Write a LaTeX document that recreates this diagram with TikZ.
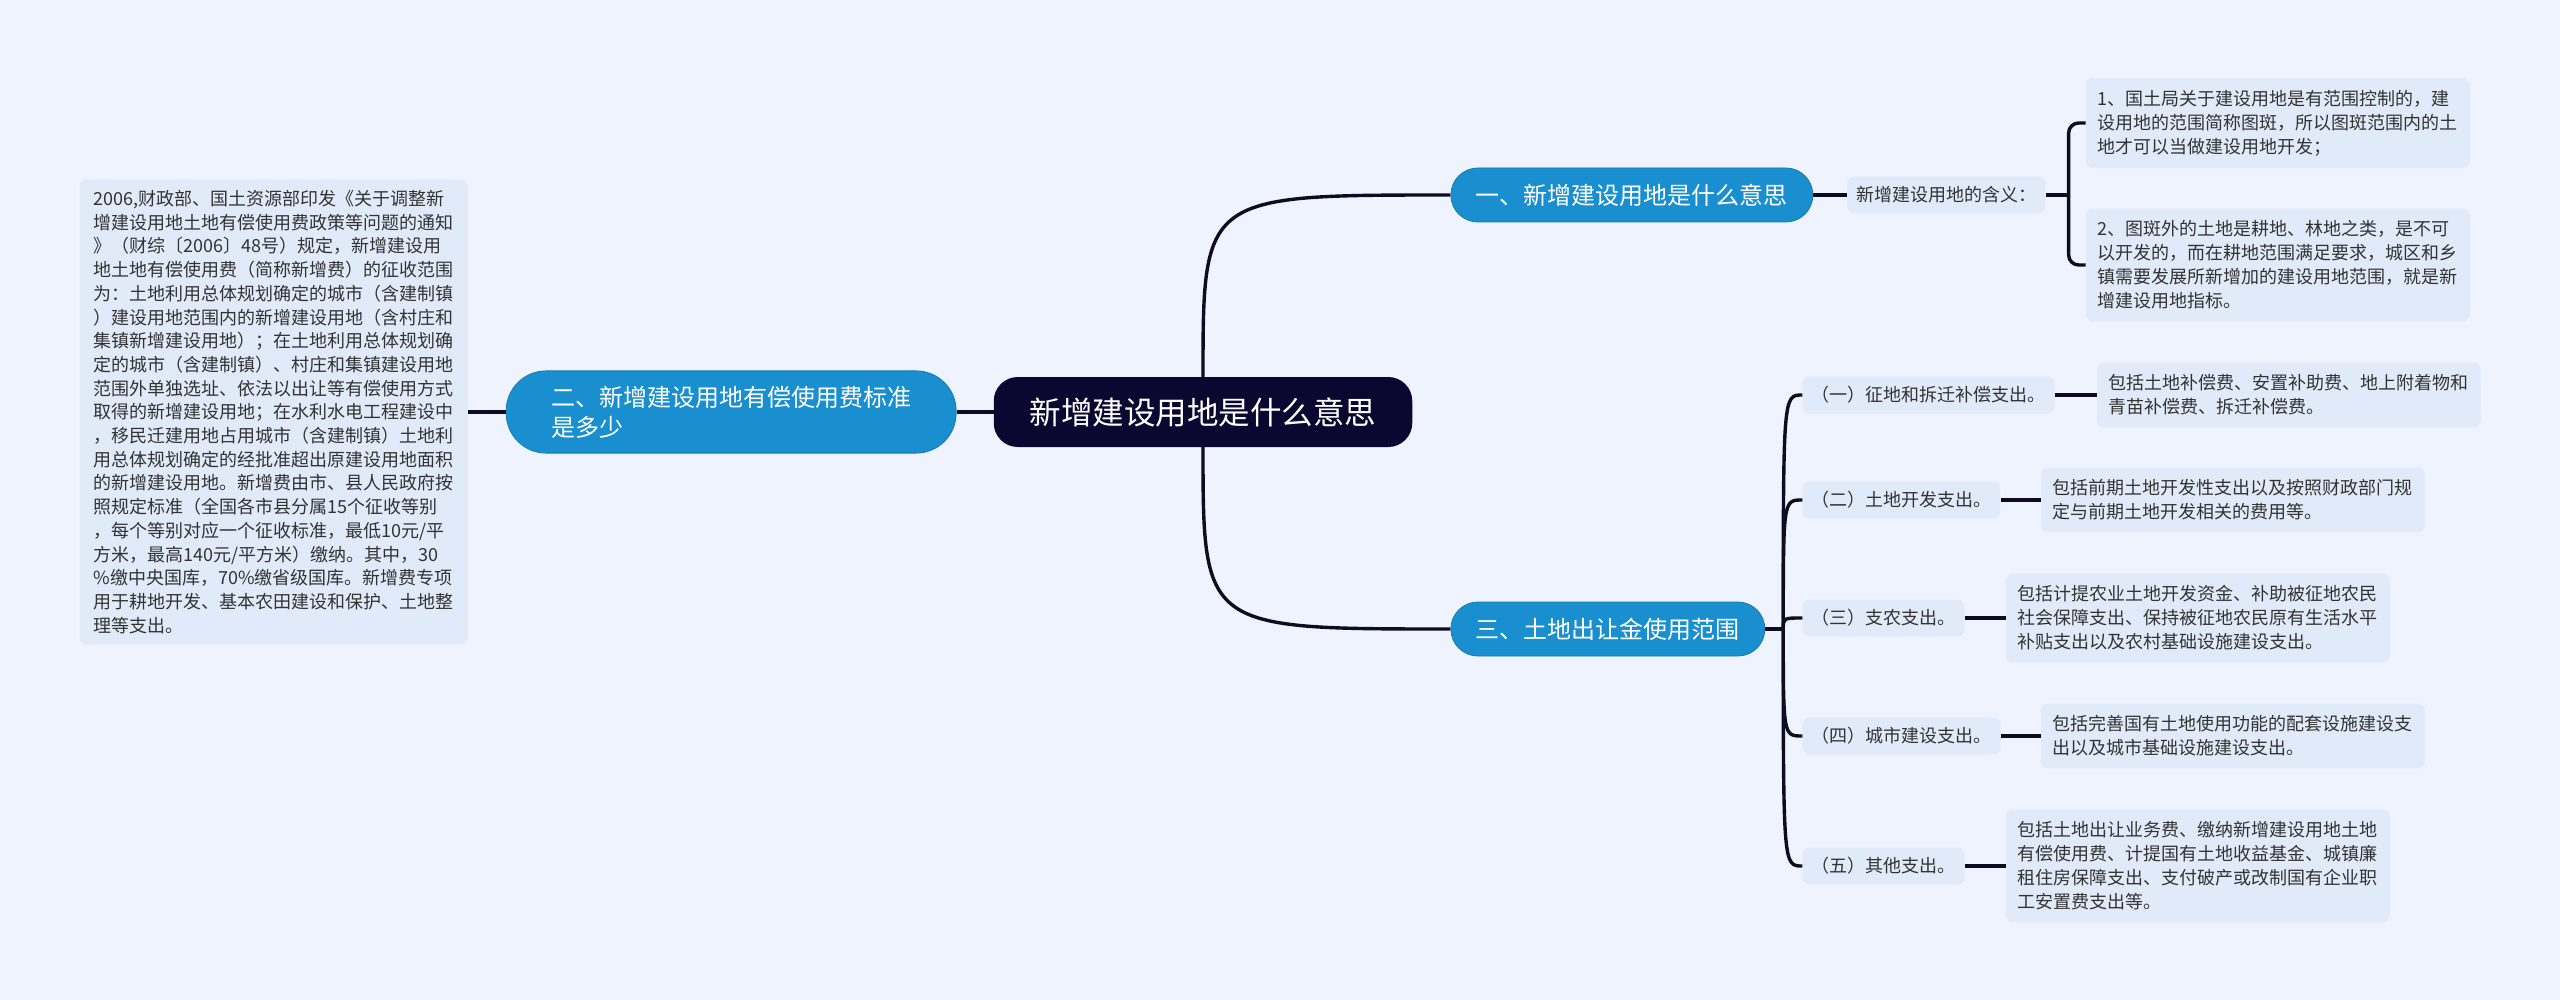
\documentclass[tikz,border=0pt]{standalone}
\usepackage{fontspec}
\setmainfont{Noto Sans CJK SC}
\usetikzlibrary{positioning}

\definecolor{bgcol}{HTML}{EEF3FD}
\definecolor{rootcol}{HTML}{0B0730}
\definecolor{branchcol}{HTML}{1A8FD0}
\definecolor{boxcol}{HTML}{E1EAF9}
\definecolor{txtcol}{HTML}{333333}
\definecolor{linecol}{HTML}{0E0C22}

\begin{document}
\begin{tikzpicture}[
  x=1pt, y=-1pt,
  root/.style={fill=rootcol, text=white, rounded corners=24pt, minimum height=70pt,
    inner xsep=36pt, inner ysep=0pt, font=\fontsize{31.5}{36}\selectfont},
  branch/.style={fill=branchcol, draw=branchcol!85!black, line width=0.8pt, text=white,
    rounded corners=27pt, minimum height=54pt, inner xsep=25pt, inner ysep=0pt,
    font=\fontsize{24}{30}\selectfont},
  item/.style={fill=boxcol, rounded corners=7pt, text=txtcol, minimum height=37pt,
    inner xsep=9pt, inner ysep=0pt, font=\fontsize{18}{24}\selectfont},
  leaf/.style={fill=boxcol, rounded corners=7pt, text=txtcol, align=left,
    inner xsep=12pt, inner ysep=12pt, font=\fontsize{18}{24}\selectfont},
  link/.style={draw=linecol, line width=3.4pt}
]
  \fill[bgcol] (0,0) rectangle (2560,1000);

  \node[root] (root) at (1203,412) {新增建设用地是什么意思};
  \node[branch, right=38pt of root, yshift=217pt] (meaning) {一、新增建设用地是什么意思};
  \node[branch, right=38pt of root, yshift=-217pt] (scope) {三、土地出让金使用范围};
  \node[branch, left=37pt of root, align=left, inner xsep=45pt, inner ysep=15pt,
    rounded corners=40pt] (fee) {二、新增建设用地有偿使用费标准\\是多少};

  \node[leaf, left=38pt of fee, inner xsep=14pt, inner ysep=11pt,
    font=\fontsize{18}{23.7}\selectfont] (feetext)
    {2006,财政部、国土资源部印发《关于调整新\\
     增建设用地土地有偿使用费政策等问题的通知\\
     》（财综〔2006〕48号）规定，新增建设用\\
     地土地有偿使用费（简称新增费）的征收范围\\
     为：土地利用总体规划确定的城市（含建制镇\\
     ）建设用地范围内的新增建设用地（含村庄和\\
     集镇新增建设用地）；在土地利用总体规划确\\
     定的城市（含建制镇）、村庄和集镇建设用地\\
     范围外单独选址、依法以出让等有偿使用方式\\
     取得的新增建设用地；在水利水电工程建设中\\
     ，移民迁建用地占用城市（含建制镇）土地利\\
     用总体规划确定的经批准超出原建设用地面积\\
     的新增建设用地。新增费由市、县人民政府按\\
     照规定标准（全国各市县分属15个征收等别\\
     ，每个等别对应一个征收标准，最低10元/平\\
     方米，最高140元/平方米）缴纳。其中，30\\
     \%缴中央国库，70\%缴省级国库。新增费专项\\
     用于耕地开发、基本农田建设和保护、土地整\\
     理等支出。};

  \node[item, right=34pt of meaning] (def) {新增建设用地的含义：};
  \node[leaf, right=40pt of def, yshift=72pt] (def1)
    {1、国土局关于建设用地是有范围控制的，建\\
     设用地的范围简称图斑，所以图斑范围内的土\\
     地才可以当做建设用地开发；};
  \node[leaf, right=40pt of def, yshift=-70pt] (def2)
    {2、图斑外的土地是耕地、林地之类，是不可\\
     以开发的，而在耕地范围满足要求，城区和乡\\
     镇需要发展所新增加的建设用地范围，就是新\\
     增建设用地指标。};

  \node[item, right=37pt of scope, yshift=234pt] (s1) {（一）征地和拆迁补偿支出。};
  \node[item, right=37pt of scope, yshift=129pt] (s2) {（二）土地开发支出。};
  \node[item, right=37pt of scope, yshift=11pt] (s3) {（三）支农支出。};
  \node[item, right=37pt of scope, yshift=-107pt] (s4) {（四）城市建设支出。};
  \node[item, right=37pt of scope, yshift=-237pt] (s5) {（五）其他支出。};

  \node[leaf, right=42pt of s1] (t1)
    {包括土地补偿费、安置补助费、地上附着物和\\
     青苗补偿费、拆迁补偿费。};
  \node[leaf, right=40pt of s2] (t2)
    {包括前期土地开发性支出以及按照财政部门规\\
     定与前期土地开发相关的费用等。};
  \node[leaf, right=41pt of s3] (t3)
    {包括计提农业土地开发资金、补助被征地农民\\
     社会保障支出、保持被征地农民原有生活水平\\
     补贴支出以及农村基础设施建设支出。};
  \node[leaf, right=40pt of s4] (t4)
    {包括完善国有土地使用功能的配套设施建设支\\
     出以及城市基础设施建设支出。};
  \node[leaf, right=41pt of s5] (t5)
    {包括土地出让业务费、缴纳新增建设用地土地\\
     有偿使用费、计提国有土地收益基金、城镇廉\\
     租住房保障支出、支付破产或改制国有企业职\\
     工安置费支出等。};

  \coordinate[right=23pt of def] (defj);
  \coordinate[right=18pt of scope] (scopej);

  \draw[link] (root.north) .. controls (root.north |- meaning.west) .. (meaning.west);
  \draw[link] (root.south) .. controls (root.south |- scope.west) .. (scope.west);
  \draw[link] (root.west) -- (fee.east);
  \draw[link] (fee.west) -- (feetext.east);

  \draw[link] (meaning.east) -- (def.west);
  \draw[link] (def.east) -- (defj);
  \draw[link, rounded corners=10pt] (def1.west) -| (defj) |- (def2.west);

  \draw[link] (scope.east) -- (scopej);
  \draw[link] (scopej) .. controls (scopej |- s1.west) .. (s1.west);
  \draw[link] (scopej) .. controls (scopej |- s2.west) .. (s2.west);
  \draw[link] (scopej) .. controls (scopej |- s3.west) .. (s3.west);
  \draw[link] (scopej) .. controls (scopej |- s4.west) .. (s4.west);
  \draw[link] (scopej) .. controls (scopej |- s5.west) .. (s5.west);
  \draw[link] (s1.east) -- (t1.west);
  \draw[link] (s2.east) -- (t2.west);
  \draw[link] (s3.east) -- (t3.west);
  \draw[link] (s4.east) -- (t4.west);
  \draw[link] (s5.east) -- (t5.west);
\end{tikzpicture}
\end{document}
